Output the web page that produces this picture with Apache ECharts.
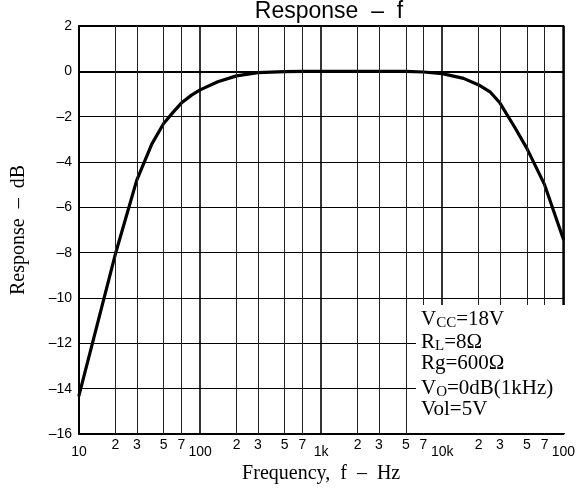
<!DOCTYPE html>
<html>
<head>
<meta charset="utf-8">
<script src="https://cdn.jsdelivr.net/npm/echarts@6/dist/echarts.min.js"></script>
<style>
  html, body { margin: 0; padding: 0; background: #fff; }
  #chart { width: 578px; height: 494px; }
</style>
</head>
<body>
<div id="chart"></div>
<script>
// frequency response
const freqHz = [10, 20, 30, 40, 50, 60, 70, 85, 100, 140, 200, 300, 500, 700, 1000, 2000, 5000, 7000,
  10000, 15000, 20000, 25000, 30000, 40000, 50000, 70000, 100000];
const responseDb = [-14.3, -8.05, -4.8, -3.2, -2.3, -1.8, -1.4, -1.05, -0.82, -0.46, -0.2, -0.06, -0.01, 0, 0, 0, 0, -0.03,
  -0.1, -0.31, -0.6, -0.92, -1.4, -2.5, -3.4, -5.0, -7.4];

// x ticks
const decadeTicks = [10, 100, 1000, 10000, 100000];
const decadeLabels = ['10', '100', '1k', '10k', '100'];
const minorTicks = [20, 30, 50, 70, 200, 300, 500, 700, 2000, 3000, 5000, 7000, 20000, 30000, 50000, 70000];
const minorLabels = ['2', '3', '5', '7', '2', '3', '5', '7', '2', '3', '5', '7', '2', '3', '5', '7'];

// conditions box
const condLines = [
  '{n|V}{s|CC}{n|=18V}',
  '{n|R}{s|L}{n|=8Ω}',
  '{n|Rg=600Ω}',
  '{n|V}{s|O}{n|=0dB(1kHz)}',
  '{n|Vol=5V}'
];

const sans = 'Liberation Sans';
const serif = 'Liberation Serif';

let chart = echarts.init(document.getElementById('chart'));

chart.setOption({
  animation: false,
  title: {
    text: 'Response  –  f',
    left: 324,
    textAlign: 'center',
    top: -5,
    textStyle: { fontFamily: sans, fontSize: 23, fontWeight: 'normal', color: '#000' }
  },
  grid: {
    left: 79, right: 9, top: 26, bottom: 60,
    show: true, borderColor: '#000', borderWidth: 2
  },
  xAxis: {
    type: 'log',
    logBase: 10,
    min: 10,
    max: 100000,
    name: 'Frequency,  f  –  Hz',
    nameLocation: 'middle',
    nameGap: 27,
    nameTextStyle: { fontFamily: serif, fontSize: 20, color: '#000' },
    axisLine: { lineStyle: { color: '#000', width: 2 } },
    axisTick: { show: false },
    axisLabel: {
      margin: 11,
      fontFamily: sans,
      fontSize: 14,
      color: '#000',
      showMinLabel: true,
      showMaxLabel: true,
      formatter: function (v) {
        let i = decadeTicks.indexOf(Math.round(v));
        return i >= 0 ? decadeLabels[i] : '';
      }
    },
    splitLine: { show: true, lineStyle: { color: '#000', width: 1.6 } }
  },
  yAxis: {
    type: 'value',
    min: -16,
    max: 2,
    interval: 2,
    name: 'Response  –  dB',
    nameLocation: 'middle',
    nameGap: 50,
    nameTextStyle: { fontFamily: serif, fontSize: 20, color: '#000' },
    axisLine: { show: true, lineStyle: { color: '#000', width: 2 } },
    axisTick: { show: false },
    axisLabel: {
      margin: 7,
      fontFamily: sans,
      fontSize: 14,
      color: '#000',
      formatter: function (v) { return v < 0 ? '–' + Math.abs(v) : String(v); }
    },
    splitLine: { show: true, lineStyle: { color: '#000', width: 1 } }
  },
  series: [
    {
      type: 'line',
      data: freqHz.map((f, i) => [f, responseDb[i]]),
      showSymbol: false,
      smooth: false,
      lineStyle: { color: '#000', width: 3.2, join: 'round', cap: 'round' },
      markLine: {
        silent: true,
        symbol: 'none',
        animation: false,
        lineStyle: { color: '#222', width: 1, type: 'solid' },
        label: {
          show: true,
          position: 'start',
          distance: 4,
          formatter: '{b}',
          fontFamily: sans,
          fontSize: 14,
          color: '#000'
        },
        emphasis: { disabled: true },
        data: minorTicks.map((f, i) => ({ xAxis: f, name: minorLabels[i] }))
      }
    }
  ],
  graphic: [
    {
      type: 'rect',
      z: 10,
      shape: { x: 416, y: 305, width: 152, height: 128 },
      style: { fill: '#fff' }
    },
    ...condLines.map((t, i) => ({
      type: 'text',
      z: 11,
      x: 421,
      y: 307 + i * 23,
      style: {
        rich: {
          n: { fontFamily: serif, fontSize: 21, fill: '#000' },
          s: { fontFamily: serif, fontSize: 15, fill: '#000', padding: [9, 0, 0, 0] }
        },
        text: t
      }
    }))
  ]
});
</script>
</body>
</html>
